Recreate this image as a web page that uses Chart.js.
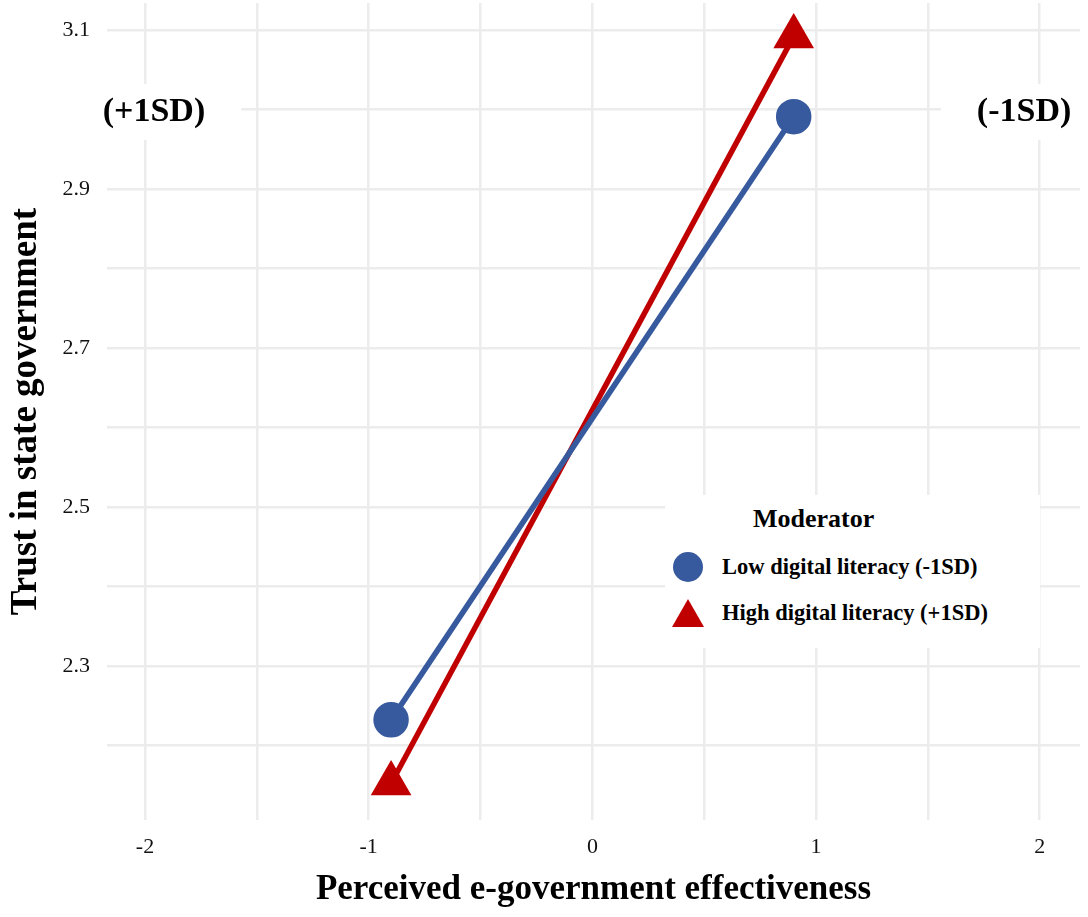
<!DOCTYPE html>
<html lang="en">
<head>
  <meta charset="UTF-8" />
  <title>Trust in state government</title>
  <script src="https://cdn.jsdelivr.net/npm/chart.js"></script>
  <style>
    body { margin: 0; background: #fff; }
    #wrap { position: relative; width: 1088px; height: 917px; }
    #legend {
      position: absolute; left: 665px; top: 495px; width: 375px; height: 153px;
      background: #fff; font-family: "Liberation Serif", serif; font-weight: bold; color: #000;
    }
    #legend .title { position: absolute; left: 88px; top: 9px; font-size: 26px; }
    #legend .item { position: absolute; left: 7px; height: 36px; display: flex; align-items: center; font-size: 22.5px; white-space: nowrap; }
    #legend svg { width: 32px; height: 32px; margin-right: 18px; }
  </style>
</head>
<body>
<div id="wrap">
  <canvas id="chart" width="1088" height="917"></canvas>
  <!-- Legend -->
  <div id="legend">
    <div class="title">Moderator</div>
    <div class="item" style="top: 54px;">
      <svg viewBox="0 0 32 32"><circle cx="16" cy="16" r="15" fill="#375a9e"/></svg>
      Low digital literacy (-1SD)
    </div>
    <div class="item" style="top: 100px;">
      <svg viewBox="0 0 32 32"><polygon points="16,2 32,30 0,30" fill="#c00000"/></svg>
      High digital literacy (+1SD)
    </div>
  </div>
</div>

<script>
  // data
  const xValues = [-0.9, 0.9];
  const lowLiteracy = [2.232, 2.991];
  const highLiteracy = [2.152, 3.092];

  const xTicks = [-2, -1.5, -1, -0.5, 0, 0.5, 1, 1.5, 2];
  const xLabels = [-2, -1, 0, 1, 2];
  const yTicks = [2.2, 2.3, 2.4, 2.5, 2.6, 2.7, 2.8, 2.9, 3.0, 3.1];
  const yLabels = [2.3, 2.5, 2.7, 2.9, 3.1];

  const notes = [
    { text: '(+1SD)', x: -1.96, y: 2.997 },
    { text: '(-1SD)', x: 1.93, y: 2.997 }
  ];

  const serif = '"Liberation Serif", "Times New Roman", serif';
  const gridColor = '#ececec';

  const hasLabel = (list, v) => list.some(l => Math.abs(l - v) < 1e-6);

  // side labels with white patches behind them
  const notePlugin = {
    id: 'notes',
    afterDatasetsDraw(chart) {
      const { ctx, scales } = chart;
      ctx.save();
      ctx.font = 'bold 34px ' + serif;
      ctx.textAlign = 'center';
      ctx.textBaseline = 'middle';
      notes.forEach(n => {
        const px = scales.x.getPixelForValue(n.x);
        const py = scales.y.getPixelForValue(n.y);
        const w = ctx.measureText(n.text).width;
        ctx.fillStyle = '#fff';
        ctx.fillRect(px - w / 2 - 36, py - 28, w + 72, 56);
        ctx.fillStyle = '#000';
        ctx.fillText(n.text, px, py);
      });
      ctx.restore();
    }
  };

  new Chart(document.getElementById('chart'), {
    type: 'line',
    data: {
      datasets: [
        {
          label: 'Low digital literacy (-1SD)',
          data: xValues.map((x, i) => ({ x, y: lowLiteracy[i] })),
          borderColor: '#375a9e',
          backgroundColor: '#375a9e',
          borderWidth: 5.5,
          pointStyle: 'circle',
          pointRadius: 15,
          pointHoverRadius: 15,
          order: 0
        },
        {
          label: 'High digital literacy (+1SD)',
          data: xValues.map((x, i) => ({ x, y: highLiteracy[i] })),
          borderColor: '#c00000',
          backgroundColor: '#c00000',
          borderWidth: 5.5,
          pointStyle: 'triangle',
          pointRadius: 18,
          pointHoverRadius: 18,
          order: 1
        }
      ]
    },
    options: {
      responsive: false,
      animation: false,
      layout: { autoPadding: false, padding: { top: 3, right: 8, left: 0, bottom: 0 } },
      plugins: {
        legend: { display: false },
        tooltip: { enabled: false }
      },
      scales: {
        x: {
          type: 'linear',
          min: -2.17,
          max: 2.18,
          afterBuildTicks: s => { s.ticks = xTicks.map(v => ({ value: v })); },
          afterFit: s => { s.height = 97; s.paddingLeft = 0; s.paddingRight = 0; },
          border: { display: false },
          grid: { color: gridColor, lineWidth: 2.5, drawTicks: false },
          ticks: {
            padding: 14,
            color: '#111',
            font: { family: serif, size: 22 },
            callback: v => hasLabel(xLabels, v) ? String(v) : ''
          },
          title: {
            display: true,
            text: 'Perceived e-government effectiveness',
            color: '#000',
            font: { family: serif, size: 35, weight: 'bold' },
            padding: { top: 0, bottom: 6 }
          }
        },
        y: {
          type: 'linear',
          min: 2.106,
          max: 3.134,
          afterBuildTicks: s => { s.ticks = yTicks.map(v => ({ value: v })); },
          afterFit: s => { s.width = 107; s.paddingTop = 0; s.paddingBottom = 0; },
          border: { display: false },
          grid: { color: gridColor, lineWidth: 2.5, drawTicks: false },
          ticks: {
            padding: 17,
            color: '#111',
            font: { family: serif, size: 22 },
            callback: v => hasLabel(yLabels, v) ? v.toFixed(1) : ''
          },
          title: {
            display: true,
            text: 'Trust in state government',
            color: '#000',
            font: { family: serif, size: 37, weight: 'bold' },
            padding: { top: 4, bottom: 0 }
          }
        }
      }
    },
    plugins: [notePlugin]
  });
</script>
</body>
</html>
